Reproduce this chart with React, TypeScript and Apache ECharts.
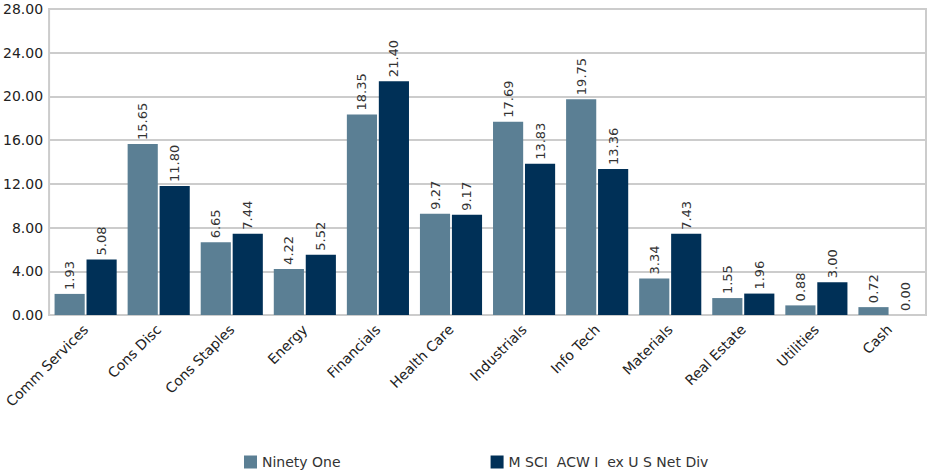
import React, { useEffect, useRef } from "react";
import * as echarts from "echarts";

const categories = ["Comm Services", "Cons Disc", "Cons Staples", "Energy", "Financials", "Health Care", "Industrials", "Info Tech", "Materials", "Real Estate", "Utilities", "Cash"];
const ninetyOne = [1.93, 15.65, 6.65, 4.22, 18.35, 9.27, 17.69, 19.75, 3.34, 1.55, 0.88, 0.72];
const msci = [5.08, 11.8, 7.44, 5.52, 21.4, 9.17, 13.83, 13.36, 7.43, 1.96, 3.0, 0.0];
const seriesNames = ["Ninety One", "M SCI  ACW I  ex U S Net Div"];

const FONT = "'DejaVu Sans', sans-serif";

export default function App() {
  const ref = useRef<HTMLDivElement>(null);
  useEffect(() => {
    const chart = echarts.init(ref.current!, undefined, { renderer: "svg" });
    const label = {
      show: true,
      position: "top" as const,
      distance: 4,
      rotate: 90,
      align: "left" as const,
      verticalAlign: "middle" as const,
      formatter: (p: any) => Number(p.value).toFixed(2),
      color: "#333",
      fontSize: 13,
      fontFamily: FONT,
    };
    chart.setOption({
      animation: false,
      textStyle: { fontFamily: FONT },
      grid: { left: 46, right: 4, top: 9, bottom: 159, show: true, borderColor: "#cccccc", borderWidth: 2, containLabel: false },
      legend: {
        top: 452,
        left: 239,
        itemGap: 150,
        itemWidth: 13,
        itemHeight: 13,
        padding: [2, 5, 2, 5],
        icon: "rect",
        textStyle: { fontSize: 14, color: "#333", fontFamily: FONT, lineHeight: 16 },
        data: seriesNames,
      },
      xAxis: {
        type: "category",
        data: categories,
        axisLine: { lineStyle: { color: "#cccccc", width: 2 } },
        axisTick: { show: false },
        axisLabel: { rotate: 45, fontSize: 14, color: "#222", interval: 0, margin: 12, fontFamily: FONT },
      },
      yAxis: {
        type: "value",
        min: 0,
        max: 28,
        interval: 4,
        axisLine: { show: false },
        axisTick: { show: false },
        splitLine: { lineStyle: { color: "#cccccc", width: 2 } },
        axisLabel: { formatter: (v: number) => v.toFixed(2), fontSize: 14, color: "#222", margin: 6, fontFamily: FONT },
      },
      series: [
        {
          name: seriesNames[0],
          type: "bar",
          data: ninetyOne,
          itemStyle: { color: "#5b7f94" },
          barGap: "6%",
          barCategoryGap: "15%",
          label,
        },
        {
          name: seriesNames[1],
          type: "bar",
          data: msci,
          itemStyle: { color: "#003057" },
          label,
        },
      ],
    });
    return () => chart.dispose();
  }, []);
  return <div ref={ref} style={{ width: 930, height: 474, position: "absolute", left: 0, top: 0 }} />;
}
